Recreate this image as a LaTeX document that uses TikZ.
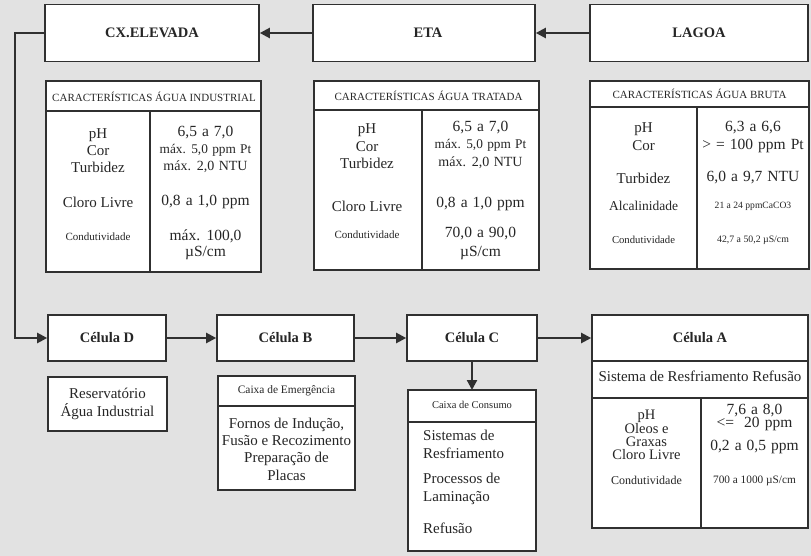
\documentclass[tikz,border=0pt]{standalone}
\usepackage{fontspec}
\setmainfont{Liberation Serif}
\newfontfamily\valfont[WordSpace=1.3]{Liberation Serif}
\usetikzlibrary{arrows.meta}
\definecolor{ink}{HTML}{303030}
\definecolor{txt}{HTML}{262626}
\definecolor{paper}{HTML}{E2E2E2}
\tikzset{
  frame/.style={draw=ink, line width=1.6pt, fill=white},
  lineink/.style={draw=ink, line width=1.6pt},
  title/.style={frame, inner sep=0pt, text=txt, font=\bfseries\fontsize{14.5}{16}\selectfont},
  arr/.style={draw=ink, line width=2.2pt, -{Triangle[length=10pt,width=10pt]}},
  tx/.style={inner sep=0pt, text=txt, align=center, font=\fontsize{15}{17}\selectfont},
  val/.style={inner sep=0pt, text=txt, align=center, font=\valfont\fontsize{15.5}{18}\selectfont},
  valm/.style={inner sep=0pt, text=txt, align=center, font=\valfont\fontsize{14}{15}\selectfont},
  vals/.style={inner sep=0pt, text=txt, align=center, font=\valfont\fontsize{13.3}{14}\selectfont},
  txm/.style={inner sep=0pt, text=txt, align=center, font=\fontsize{13.5}{15}\selectfont},
  sm/.style={inner sep=0pt, text=txt, align=center, font=\fontsize{11}{12}\selectfont},
  hd/.style={inner sep=0pt, text=txt, align=center, font=\fontsize{11}{12}\selectfont},
}
\begin{document}
\begin{tikzpicture}[x=1pt,y=-1pt]
\fill[paper] (0,0) rectangle (811,556);
\useasboundingbox (0,0) rectangle (811,556);

% ---------- top row ----------
\node[title, minimum width=214pt, minimum height=57pt] (cx) at (152,33) {CX.ELEVADA\hspace{20pt}};
\node[title, minimum width=222pt, minimum height=57pt] (eta) at (424,33) {\hspace{8pt}ETA};
\node[title, minimum width=218pt, minimum height=57pt] (lagoa) at (699,33) {LAGOA};
\draw[arr] (lagoa) -- (eta);
\draw[arr] (eta) -- (cx);

% ---------- table 1: agua industrial ----------
\draw[frame] (46,81) rectangle (261,272);
\draw[lineink] (46,111) -- (261,111);
\draw[lineink] (150,111) -- (150,272);
\node[hd] (t1h) at (154,97) {CARACTERÍSTICAS ÁGUA INDUSTRIAL};
\node[tx] (t1l1) at (98,150.5) {pH\\Cor\\Turbidez};
\node[tx] (t1l2) at (98,202) {Cloro Livre};
\node[sm] (t1l3) at (98,237) {Condutividade};
\node[val] (t1r1) at (205.5,133) {6,5 a 7,0};
\node[vals] (t1r2) at (205.5,150) {máx. 5,0 ppm Pt};
\node[valm] (t1r3) at (205.5,167) {máx. 2,0 NTU};
\node[val] (t1r4) at (205.5,202) {0,8 a 1,0 ppm};
\node[val, font=\valfont\fontsize{15.5}{16.5}\selectfont] (t1r5) at (205.5,245) {máx. 100,0\\µS/cm};

% ---------- table 2: agua tratada ----------
\draw[frame] (314,81) rectangle (539,270);
\draw[lineink] (314,110) -- (539,110);
\draw[lineink] (422,110) -- (422,270);
\node[hd] (t2h) at (428.5,96) {CARACTERÍSTICAS ÁGUA TRATADA};
\node[tx, font=\fontsize{15}{17.5}\selectfont] (t2l1) at (367,146.5) {pH\\Cor\\Turbidez};
\node[tx] (t2l2) at (367,206) {Cloro Livre};
\node[sm] (t2l3) at (367,235) {Condutividade};
\node[val] (t2r1) at (480.5,128) {6,5 a 7,0};
\node[vals] (t2r2) at (480.5,145.5) {máx. 5,0 ppm Pt};
\node[valm] (t2r3) at (480.5,163) {máx. 2,0 NTU};
\node[val] (t2r4) at (480.5,204) {0,8 a 1,0 ppm};
\node[val, font=\valfont\fontsize{15.5}{19}\selectfont] (t2r5) at (480.5,243) {70,0 a 90,0\\µS/cm};

% ---------- table 3: agua bruta ----------
\draw[frame] (590,81) rectangle (809,269);
\draw[lineink] (590,107) -- (809,107);
\draw[lineink] (697,107) -- (697,269);
\node[hd] (t3h) at (699.5,94) {CARACTERÍSTICAS ÁGUA BRUTA};
\node[tx, font=\fontsize{15}{18}\selectfont] (t3l1) at (643.5,137) {pH\\Cor};
\node[tx] (t3l2) at (643.5,178) {Turbidez};
\node[txm] (t3l3) at (643.5,206) {Alcalinidade};
\node[sm, font=\fontsize{10.7}{12}\selectfont] (t3l4) at (643.5,240) {Condutividade};
\node[val] (t3r1) at (753,137) {6,3 a 6,6\\> = 100 ppm Pt};
\node[val] (t3r2) at (753,178) {6,0 a 9,7 NTU};
\node[sm, font=\fontsize{9.6}{10}\selectfont] (t3r3) at (753,206) {21 a 24 ppmCaCO3};
\node[sm, font=\fontsize{9.8}{10}\selectfont] (t3r4) at (753,240) {42,7 a 50,2 µS/cm};

% ---------- bottom row ----------
\node[title, minimum width=118pt, minimum height=46pt] (celD) at (107,338) {Célula D\hspace{8pt}};
\node[title, minimum width=137pt, minimum height=46pt] (celB) at (285.5,338) {Célula B\hspace{16pt}};
\node[title, minimum width=130pt, minimum height=46pt] (celC) at (472,338) {Célula C\hspace{28pt}};
\node[title, minimum width=216pt, minimum height=46pt] (celA) at (700,338) {Célula A};

\draw[arr] (cx.west) -- ++(-29,0) |- (celD.west);
\draw[arr] (celD) -- (celB);
\draw[arr] (celB) -- (celC);
\draw[arr] (celC) -- (celA);

% Reservatorio
\node[frame, tx, inner sep=0pt, minimum width=119pt, minimum height=54pt, font=\fontsize{15}{18}\selectfont] (res) at (107.5,404) {Reservatório\\Água Industrial};

% Caixa de Emergencia
\draw[frame] (218,376) rectangle (355,490);
\draw[lineink] (218,406) -- (355,406);
\node[sm, font=\fontsize{11.4}{12}\selectfont] (emh) at (286.5,391) {Caixa de Emergência};
\node[tx, font=\fontsize{15}{17.4}\selectfont] (emb) at (286.5,449) {Fornos de Indução,\\Fusão e Recozimento\\Preparação de\\Placas};

% Caixa de Consumo
\draw[frame] (408,390) rectangle (536,551);
\coordinate (consTop) at (472,390);
\draw[lineink] (408,422) -- (536,422);
\node[sm, font=\fontsize{10.5}{12}\selectfont] (coh) at (472,405) {Caixa de Consumo};
\node[tx, anchor=west, align=left, font=\fontsize{15}{18}\selectfont] (co1) at (423,444) {Sistemas de\\Resfriamento};
\node[tx, anchor=west, align=left, font=\fontsize{15}{18}\selectfont] (co2) at (423,489) {Processos de\\Laminação};
\node[tx, anchor=west] (co3) at (423,528) {Refusão};
\draw[arr] (celC) -- (consTop);

% Celula A table
\draw[frame] (592,361) rectangle (808,528);
\draw[lineink] (592,398) -- (808,398);
\draw[lineink] (701,398) -- (701,528);
\node[tx] (sis) at (700,376) {Sistema de Resfriamento Refusão};
\node[tx, font=\fontsize{14.5}{13.3}\selectfont] (cal1) at (646.5,435) {pH\\Oleos e\\Graxas\\Cloro Livre};
\node[sm, font=\fontsize{12}{13}\selectfont] (cal2) at (646.5,480) {Condutividade};
\node[val, font=\valfont\fontsize{15.5}{13.5}\selectfont] (car1) at (754.5,417.5) {7,6 a 8,0\\<=\ \ 20 ppm};
\node[val] (car2) at (754.5,447) {0,2 a 0,5 ppm};
\node[sm, font=\fontsize{11.3}{12}\selectfont] (car3) at (754.5,481) {700 a 1000 µS/cm};
\end{tikzpicture}
\end{document}
